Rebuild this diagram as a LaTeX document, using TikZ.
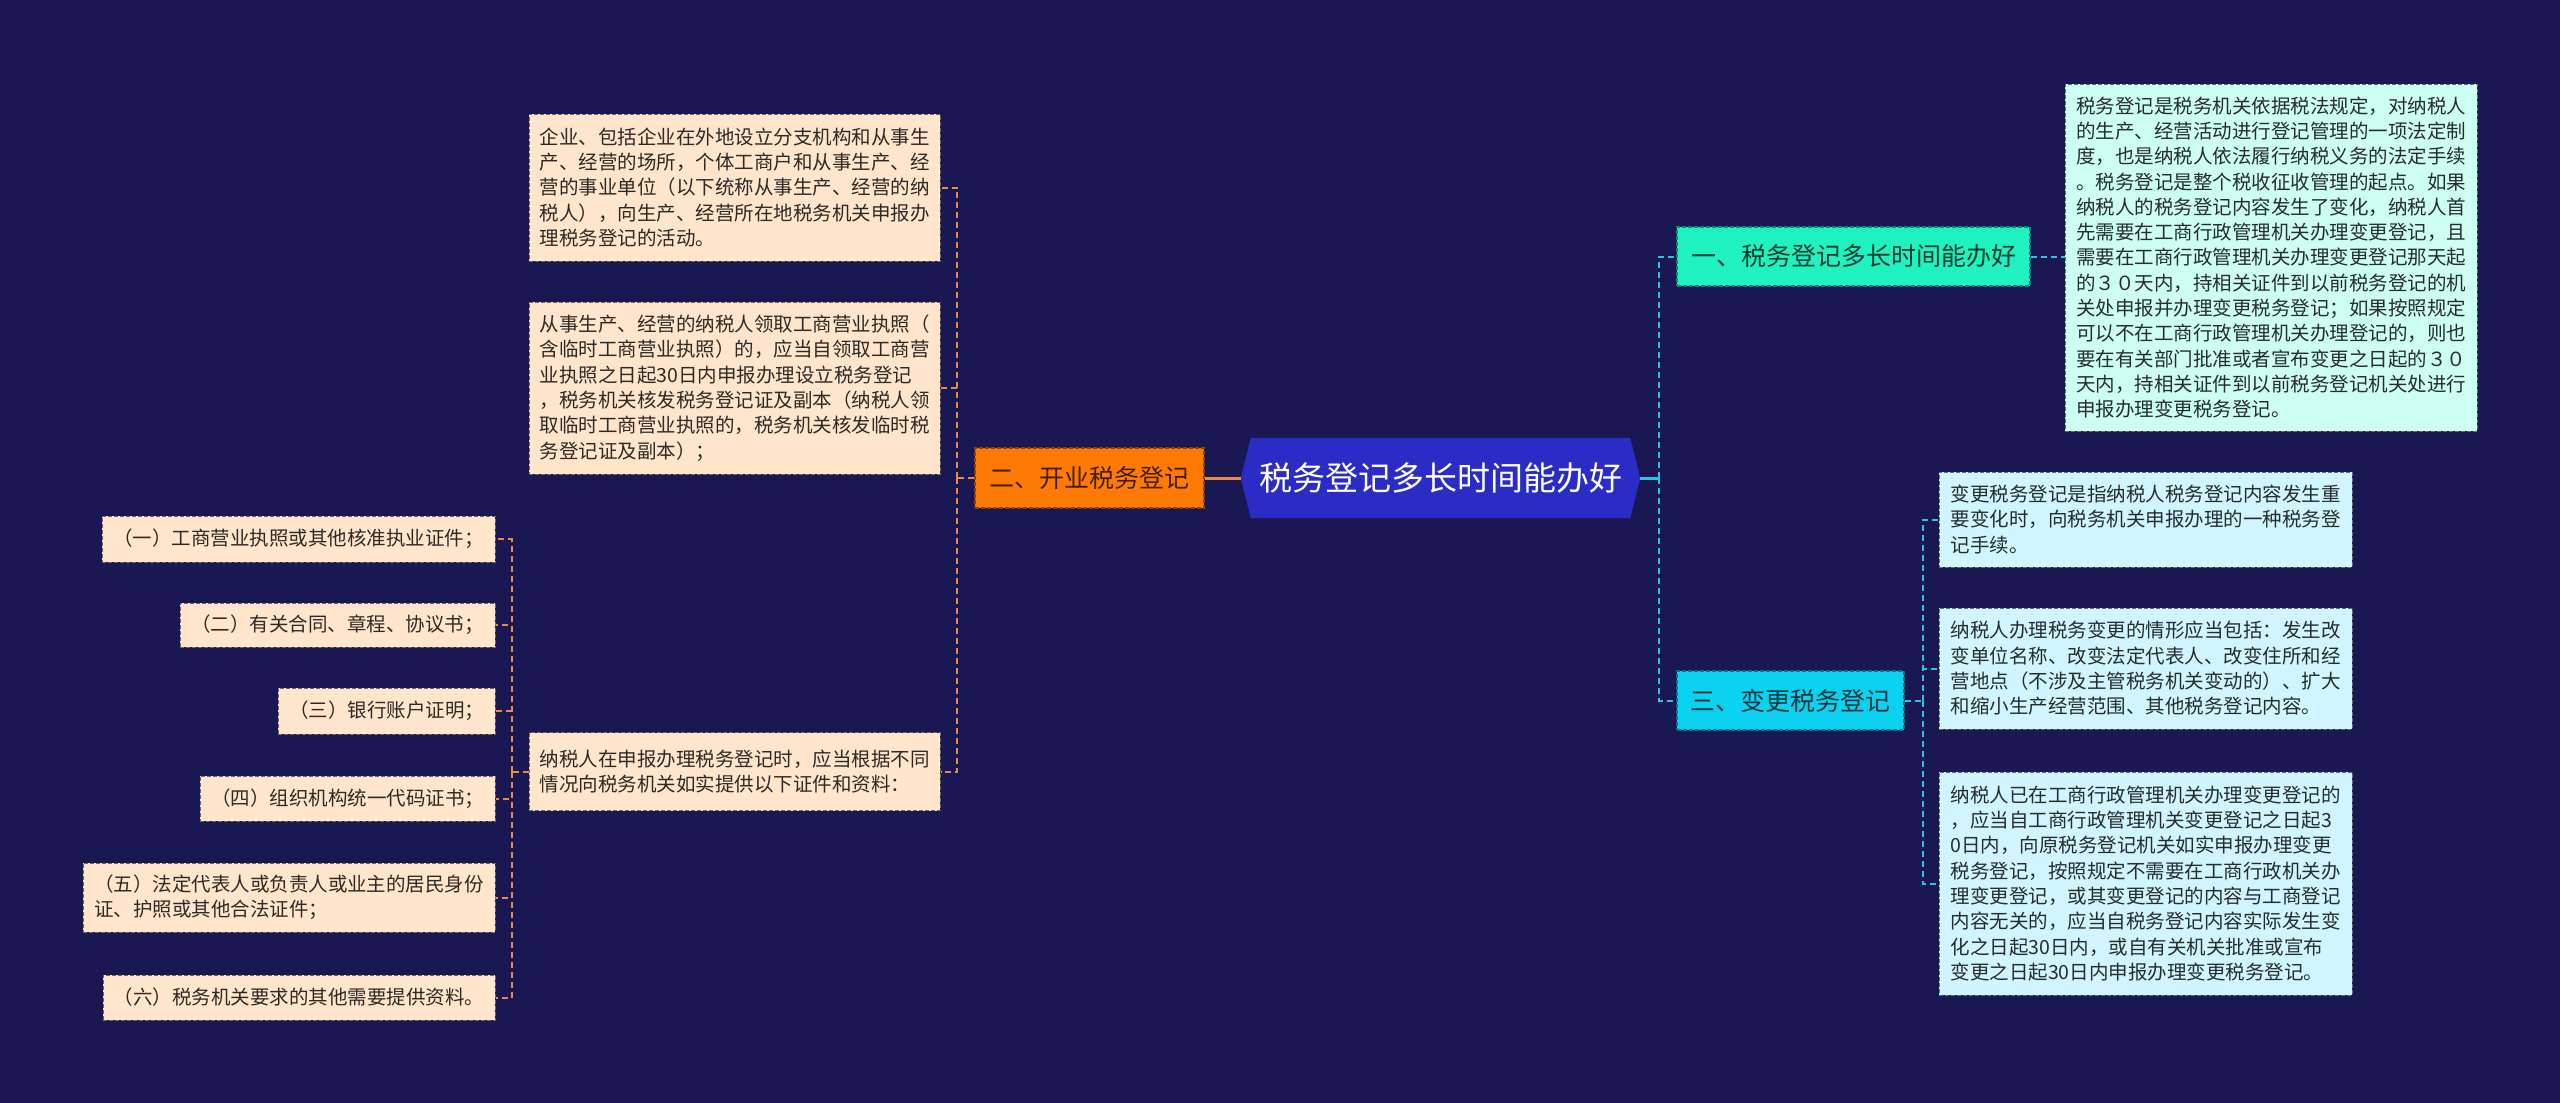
\documentclass[tikz,border=0pt]{standalone}
\usepackage{fontspec}
\setmainfont{Noto Sans CJK SC}
\usepackage{tikz}
\usetikzlibrary{backgrounds}
\usetikzlibrary{calc}
\usetikzlibrary{positioning}

\definecolor{bgNavy}{HTML}{1A1852}
\definecolor{rootBlue}{HTML}{2B2BC6}
\definecolor{kaiyeOrange}{HTML}{FF7A05}
\definecolor{yiGreen}{HTML}{1FF2C0}
\definecolor{sanCyan}{HTML}{0CD2F2}
\definecolor{peach}{HTML}{FFE5CC}
\definecolor{mint}{HTML}{CCFFF1}
\definecolor{iceBlue}{HTML}{D0F5FE}
\definecolor{linkOrange}{HTML}{E98A4C}
\definecolor{linkCyan}{HTML}{2CC3E2}

\begin{document}
\begin{tikzpicture}[
  x=1pt, y=-1pt,
  % root and first level
  rootNode/.style={inner sep=0pt, text=white, font=\fontsize{33}{40}\selectfont,
    minimum width=379, minimum height=80},
  branchTitle/.style={draw=#1!55!black, fill=#1, dash pattern=on 4pt off 2pt, line width=1.2pt,
    text=#1!25!black, inner sep=0pt, font=\fontsize{25}{30}\selectfont},
  % leaves
  leafBox/.style={draw=#1!45!black, fill=#1, dash pattern=on 4pt off 2pt, line width=1pt,
    text=#1!18!black, inner sep=0pt, align=left, font=\fontsize{19.5}{25.3}\selectfont},
  linkL/.style={draw=linkOrange, line width=2pt, dash pattern=on 6pt off 4pt},
  linkR/.style={draw=linkCyan, line width=2pt, dash pattern=on 6pt off 4pt},
]

\begin{pgfonlayer}{background}
\fill[bgNavy] (0,0) rectangle (2560,1103);
\end{pgfonlayer}

\node[rootNode] (root) at (1440.5,478) {税务登记多长时间能办好};

\node[branchTitle=kaiyeOrange, minimum width=229, minimum height=60] (kaiye) at (1089.5,478) {二、开业税务登记};
\node[branchTitle=yiGreen, minimum width=353, minimum height=59] (yiTitle) at (1853.5,256.5) {一、税务登记多长时间能办好};
\node[branchTitle=sanCyan, minimum width=227, minimum height=59] (sanTitle) at (1790.5,700.5) {三、变更税务登记};

% --- left branch ---
\node[leafBox=peach, minimum width=411, minimum height=147] (leafA) at (734.5,187.5) {企业、包括企业在外地设立分支机构和从事生\\产、经营的场所，个体工商户和从事生产、经\\营的事业单位（以下统称从事生产、经营的纳\\税人），向生产、经营所在地税务机关申报办\\理税务登记的活动。};
\node[leafBox=peach, minimum width=411, minimum height=172] (leafB) at (734.5,388) {从事生产、经营的纳税人领取工商营业执照（\\含临时工商营业执照）的，应当自领取工商营\\业执照之日起30日内申报办理设立税务登记\\，税务机关核发税务登记证及副本（纳税人领\\取临时工商营业执照的，税务机关核发临时税\\务登记证及副本）；};
\node[leafBox=peach, minimum width=411, minimum height=78] (leafC) at (734.5,771.5) {纳税人在申报办理税务登记时，应当根据不同\\情况向税务机关如实提供以下证件和资料：};

\node[leafBox=peach, minimum width=393, minimum height=46] (item1) at (298.5,539) {（一）工商营业执照或其他核准执业证件；};
\node[leafBox=peach, minimum width=315, minimum height=44] (item2) at (337.5,625) {（二）有关合同、章程、协议书；};
\node[leafBox=peach, minimum width=217, minimum height=46] (item3) at (386.5,711) {（三）银行账户证明；};
\node[leafBox=peach, minimum width=295, minimum height=45] (item4) at (347.5,798.5) {（四）组织机构统一代码证书；};
\node[leafBox=peach, minimum width=412, minimum height=69] (item5) at (289,897.5) {（五）法定代表人或负责人或业主的居民身份\\证、护照或其他合法证件；};
\node[leafBox=peach, minimum width=392, minimum height=45] (item6) at (299,997.5) {（六）税务机关要求的其他需要提供资料。};

% --- right branch ---
\node[leafBox=mint, minimum width=412, minimum height=347] (info) at (2271,257.5) {税务登记是税务机关依据税法规定，对纳税人\\的生产、经营活动进行登记管理的一项法定制\\度，也是纳税人依法履行纳税义务的法定手续\\。税务登记是整个税收征收管理的起点。如果\\纳税人的税务登记内容发生了变化，纳税人首\\先需要在工商行政管理机关办理变更登记，且\\需要在工商行政管理机关办理变更登记那天起\\的３０天内，持相关证件到以前税务登记的机\\关处申报并办理变更税务登记；如果按照规定\\可以不在工商行政管理机关办理登记的，则也\\要在有关部门批准或者宣布变更之日起的３０\\天内，持相关证件到以前税务登记机关处进行\\申报办理变更税务登记。};

\node[leafBox=iceBlue, minimum width=413, minimum height=95] (boxD) at (2145.5,519.5) {变更税务登记是指纳税人税务登记内容发生重\\要变化时，向税务机关申报办理的一种税务登\\记手续。};
\node[leafBox=iceBlue, minimum width=413, minimum height=121] (boxE) at (2145.5,668.5) {纳税人办理税务变更的情形应当包括：发生改\\变单位名称、改变法定代表人、改变住所和经\\营地点（不涉及主管税务机关变动的）、扩大\\和缩小生产经营范围、其他税务登记内容。};
\node[leafBox=iceBlue, minimum width=413, minimum height=223] (boxF) at (2145.5,883.5) {纳税人已在工商行政管理机关办理变更登记的\\，应当自工商行政管理机关变更登记之日起3\\0日内，向原税务登记机关如实申报办理变更\\税务登记，按照规定不需要在工商行政机关办\\理变更登记，或其变更登记的内容与工商登记\\内容无关的，应当自税务登记内容实际发生变\\化之日起30日内，或自有关机关批准或宣布\\变更之日起30日内申报办理变更税务登记。};

\begin{pgfonlayer}{background}
\fill[rootBlue] (root.north west) -- (root.north east) -- ([xshift=10pt]root.east)
  -- (root.south east) -- (root.south west) -- ([xshift=-10pt]root.west) -- cycle;
\end{pgfonlayer}

% links, left
\draw[draw=linkOrange, line width=3pt] ([xshift=-10pt]root.west) -- (kaiye.east);
\draw[linkL] (kaiye.west) -- ++(-17,0) coordinate (jointL);
\draw[linkL] (jointL) |- (leafA.east);
\draw[linkL] (jointL) |- (leafB.east);
\draw[linkL] (jointL) |- (leafC.east);

\draw[linkL] (leafC.west) -- ++(-17,0) coordinate (jointItems);
\draw[linkL] (jointItems) |- (item1.east);
\draw[linkL] (jointItems) |- (item2.east);
\draw[linkL] (jointItems) |- (item3.east);
\draw[linkL] (jointItems) |- (item4.east);
\draw[linkL] (jointItems) |- (item5.east);
\draw[linkL] (jointItems) |- (item6.east);

% links, right
\draw[draw=linkCyan, line width=3pt] ([xshift=10pt]root.east) -- ++(19,0) coordinate (jointR);
\draw[linkR] (jointR) |- (yiTitle.west);
\draw[linkR] (jointR) |- (sanTitle.west);
\draw[linkR] (yiTitle.east) -- (yiTitle.east -| info.west);

\draw[linkR] (sanTitle.east) -- ++(18,0) coordinate (jointSan);
\draw[linkR] (jointSan) |- (boxD.west);
\draw[linkR] (jointSan) |- (boxE.west);
\draw[linkR] (jointSan) |- (boxF.west);

\end{tikzpicture}
\end{document}
